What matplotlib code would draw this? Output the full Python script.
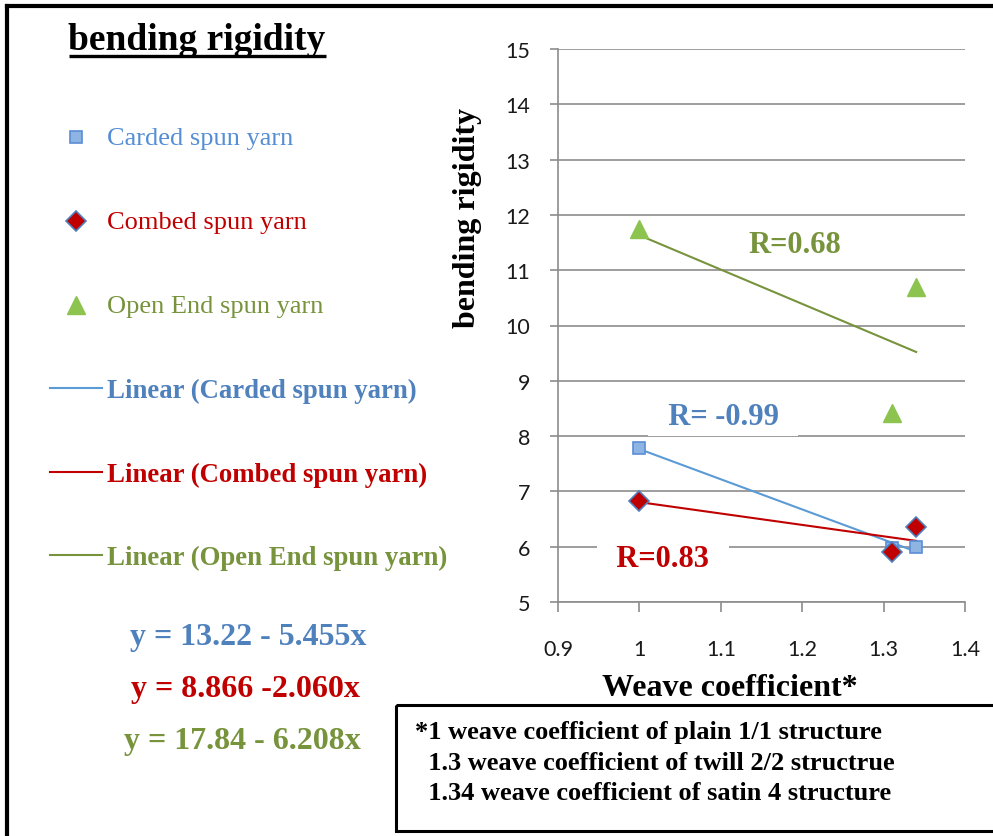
import matplotlib.pyplot as plt
from matplotlib.patches import Rectangle

# weave coefficient (plain, twill, satin)
weave = [1.0, 1.31, 1.34]

# bending rigidity per yarn type
carded = [7.78, 5.98, 6.0]
combed = [6.82, 5.9, 6.35]
open_end = [11.75, 8.42, 10.7]

# linear fits  y = a + b*x
fit_carded = (13.22, -5.455)
fit_combed = (8.866, -2.060)
fit_open = (17.84, -6.208)

r_labels = ['R= -0.99', 'R=0.83', 'R=0.68']
eq_labels = ['y = 13.22 - 5.455x', 'y = 8.866 -2.060x', 'y = 17.84 - 6.208x']
notes = ['*1 weave coefficient of plain 1/1 structure',
         '  1.3 weave coefficient of twill 2/2 structrue',
         '  1.34 weave coefficient of satin 4 structure']

blue = '#4F81BD'
blue_lt = '#558ED5'
red = '#C00000'
green = '#77933C'
tri = '#8CC44F'
serif = 'Liberation Serif'

W, H = 993, 837
fig = plt.figure(figsize=(W/100, H/100), dpi=100)
ax = fig.add_axes([558/W, 1-603/H, (965-558)/W, (603-50)/H])
ax.set_facecolor('none')

ax.set_xlim(0.9, 1.4)
ax.set_ylim(5, 15)
ax.set_xticks([0.9, 1.0, 1.1, 1.2, 1.3, 1.4])
ax.set_xticklabels(['0.9', '1', '1.1', '1.2', '1.3', '1.4'])
ax.set_yticks(range(5, 16))
ax.yaxis.grid(True, color='#8C8C8C', lw=1.2)
ax.set_axisbelow(True)
for s in ['top', 'right']:
    ax.spines[s].set_visible(False)
for s in ['left', 'bottom']:
    ax.spines[s].set_color('#8C8C8C')
    ax.spines[s].set_linewidth(1.2)
ax.tick_params(axis='y', length=6, width=1.2, color='#8C8C8C', pad=14,
               labelsize=15.5, labelcolor='#1A1A1A')
ax.tick_params(axis='x', length=7, width=1.2, color='#8C8C8C', pad=20,
               labelsize=15.5, labelcolor='#1A1A1A')
for lab in ax.get_xticklabels() + ax.get_yticklabels():
    lab.set_family('Lato')

# trend lines
xs = [weave[0], weave[-1]]
for (a, b), c in [(fit_carded, '#5B9BD5'), (fit_combed, red), (fit_open, green)]:
    ax.plot(xs, [a + b*x for x in xs], color=c, lw=1.5, zorder=3)

ax.plot(weave, carded, 's', ms=8.5, mfc='#8DB4E2', mec='#5B8ED6', mew=1.2, zorder=4)
ax.plot(weave, combed, 'D', ms=10, mfc=red, mec=blue, mew=1.2, zorder=5)
ax.plot(weave, open_end, '^', ms=13, mfc=tri, mec=tri, zorder=4)

rkw = dict(fontsize=22, fontweight='bold', family=serif, ha='center', va='center', zorder=6)
ax.text(1.103, 8.35, '  ' + r_labels[0] + '  ', color=blue,
        bbox=dict(fc='white', ec='none', boxstyle='square,pad=0.15'), **rkw)
ax.text(1.029, 5.78, '  ' + r_labels[1] + '  ', color=red,
        bbox=dict(fc='white', ec='none', boxstyle='square,pad=0.15'), **rkw)
ax.text(1.191, 11.46, r_labels[2], color=green, **rkw)

# overlay in pixel coordinates for the side panel
ov = fig.add_axes([0, 0, 1, 1])
ov.set_axis_off()
ov.set_xlim(0, W)
ov.set_ylim(H, 0)

ov.text(730, 688, 'Weave coefficient*', fontsize=23, fontweight='bold', family=serif,
        ha='center', va='center')
ov.text(468, 218, 'bending rigidity', rotation=90, fontsize=23, fontweight='bold',
        family=serif, ha='center', va='center')

ov.text(197, 40, 'bending rigidity', fontsize=27, fontweight='bold', family=serif,
        ha='center', va='center')
ov.plot([69, 326], [57, 57], color='black', lw=2.4, solid_capstyle='butt')

# frame (top and left edges)
ov.plot([7, W + 5], [7, 7], color='black', lw=3, solid_capstyle='projecting')
ov.plot([7, 7], [7, H + 5], color='black', lw=3, solid_capstyle='projecting')

# legend
rows = [138, 222, 306, 390, 474, 557]
ov.plot(76, rows[0], 's', ms=8.5, mfc='#8DB4E2', mec='#5B8ED6', mew=1.2)
ov.plot(76, rows[1], 'D', ms=10, mfc=red, mec=blue, mew=1.2)
ov.plot(76, rows[2], '^', ms=13, mfc=tri, mec=tri)
for y, c in zip(rows[3:], ['#5B9BD5', red, green]):
    ov.plot([50, 102], [y - 1, y - 1], color=c, lw=1.5)

names = ['Carded spun yarn', 'Combed spun yarn', 'Open End spun yarn']
for y, t, c in zip(rows[:3], names, [blue_lt, red, green]):
    ov.text(107, y + 1, t, color=c, fontsize=19, family=serif, va='center')
for y, t, c in zip(rows[3:], names, [blue, red, green]):
    ov.text(107, y + 1, 'Linear (' + t + ')', color=c, fontsize=19.3, fontweight='bold',
            family=serif, va='center')

for (x, y), t, c in zip([(248, 637), (245, 689), (242, 741)], eq_labels, [blue, red, green]):
    ov.text(x, y, t, color=c, fontsize=23, fontweight='bold', family=serif,
            ha='center', va='center')

# footnote box
ov.add_patch(Rectangle((396, 706), 700, 126, fill=False, ec='black', lw=2.2))
for i, t in enumerate(notes):
    ov.text(415, 732 + 31*i, t, fontsize=19, fontweight='bold', family=serif, va='center')

fig.savefig('out.png', dpi=100)
